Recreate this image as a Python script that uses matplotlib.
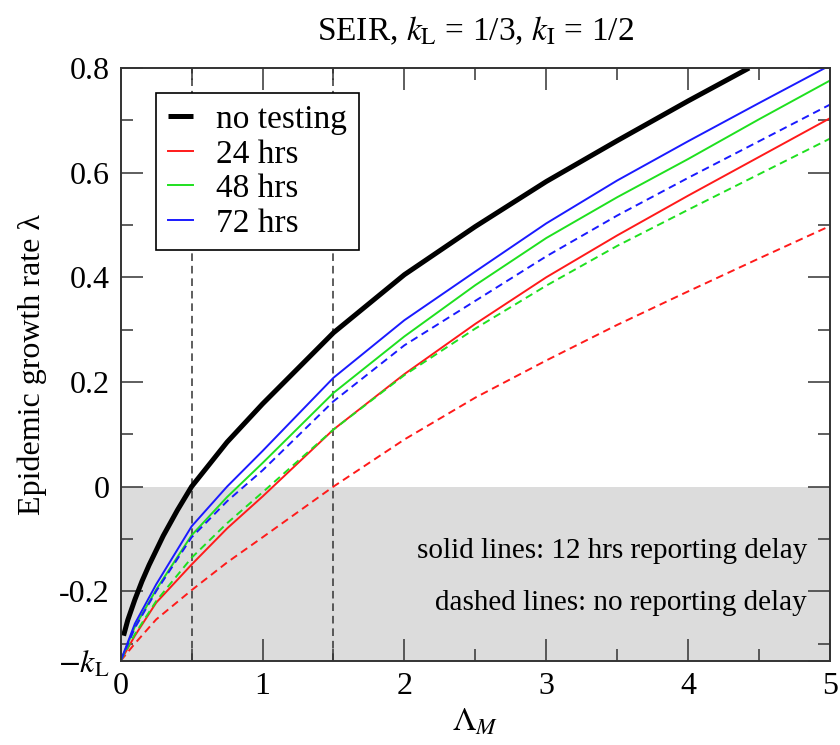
import numpy as np
import matplotlib
matplotlib.use('Agg')
import matplotlib.pyplot as plt

plt.rcParams['font.family'] = ['Liberation Serif', 'DejaVu Serif']
plt.rcParams['mathtext.fontset'] = 'stix'
plt.rcParams['axes.unicode_minus'] = False
plt.rcParams['lines.scale_dashes'] = False

# values
lam = [0, 0.1, 0.25, 0.5, 0.75, 1.0, 1.5, 2.0, 2.5, 3.0, 3.5, 4.0, 4.5, 5.0]

red_solid = [-0.333, -0.285, -0.222, -0.149, -0.080, -0.019, 0.109, 0.215, 0.311, 0.400, 0.480, 0.556, 0.630, 0.704]
green_solid = [-0.333, -0.268, -0.197, -0.093, -0.020, 0.045, 0.179, 0.287, 0.385, 0.475, 0.553, 0.626, 0.702, 0.776]
blue_solid = [-0.333, -0.262, -0.187, -0.076, 0.000, 0.068, 0.208, 0.318, 0.411, 0.503, 0.585, 0.660, 0.733, 0.805]

red_dashed = [-0.333, -0.300, -0.254, -0.198, -0.145, -0.097, 0.000, 0.090, 0.170, 0.241, 0.309, 0.373, 0.436, 0.498]
green_dashed = [-0.333, -0.282, -0.219, -0.136, -0.070, -0.011, 0.109, 0.213, 0.302, 0.384, 0.460, 0.529, 0.597, 0.665]
blue_dashed = [-0.333, -0.270, -0.200, -0.097, -0.028, 0.031, 0.163, 0.270, 0.355, 0.440, 0.518, 0.590, 0.660, 0.730]

lam_none = [0.02, 0.05, 0.1, 0.15, 0.2, 0.3, 0.4, 0.5, 0.75, 1.0, 1.5, 2.0, 2.5, 3.0, 3.5, 4.0, 4.43]
no_testing = [-0.285, -0.255, -0.216, -0.181, -0.150, -0.094, -0.045, 0.0, 0.085, 0.158,
              0.294, 0.405, 0.497, 0.583, 0.661, 0.737, 0.800]

kL = 1 / 3
marks = [0.5, 1.5]

red = '#ff1a1a'
green = '#1fe01f'
blue = '#1a1aff'

fig = plt.figure(figsize=(8.4, 7.45), dpi=100)
ax = fig.add_axes([0.1437, 0.1128, 0.8443, 0.7959])

ax.axhspan(-kL, 0, color='#dcdcdc', zorder=0, lw=0)
for m in marks:
    ax.axvline(m, color='#333333', lw=1.1, dashes=(5.5, 3.5), zorder=1)

ax.plot(lam_none, no_testing, color='black', lw=3.6, solid_capstyle='butt', label='no testing')
ax.plot(lam, red_solid, color=red, lw=1.4, label='24 hrs')
ax.plot(lam, green_solid, color=green, lw=1.4, label='48 hrs')
ax.plot(lam, blue_solid, color=blue, lw=1.4, label='72 hrs')
ax.plot(lam, red_dashed, color=red, lw=1.4, dashes=(5.5, 3.5))
ax.plot(lam, green_dashed, color=green, lw=1.4, dashes=(5.5, 3.5))
ax.plot(lam, blue_dashed, color=blue, lw=1.4, dashes=(5.5, 3.5))

ax.set_xlim(0, 5)
ax.set_ylim(-kL, 0.8)
ax.set_xticks([0, 1, 2, 3, 4, 5])
ax.set_xticks(np.arange(0.5, 5, 1.0), minor=True)
ax.set_yticks([-kL, -0.2, 0, 0.2, 0.4, 0.6, 0.8])
ax.set_yticklabels([r'$-k_\mathrm{L}$', '-0.2', '0', '0.2', '0.4', '0.6', '0.8'])
ax.set_yticks([-0.3, -0.1, 0.1, 0.3, 0.5, 0.7], minor=True)
ax.tick_params(which='both', direction='in', top=True, right=True, labelsize=23, width=1.1, color='#333333')
ax.tick_params(which='major', length=16, pad=8)
ax.tick_params(which='minor', length=8.5)
for s in ax.spines.values():
    s.set_linewidth(1.4)
    s.set_color('#333333')

ax.set_xlabel(r'$\Lambda_M$', fontsize=24, labelpad=4)
ax.set_ylabel('Epidemic growth rate λ', fontsize=23, labelpad=8)
ax.set_title(r'SEIR, $k_\mathrm{L}$ = 1/3, $k_\mathrm{I}$ = 1/2', fontsize=24, pad=20)

ax.text(4.84, -0.124, 'solid lines: 12 hrs reporting delay', ha='right', va='center', fontsize=21)
ax.text(4.84, -0.222, 'dashed lines: no reporting delay', ha='right', va='center', fontsize=21)

leg = ax.legend(loc='upper left', bbox_to_anchor=(0.0498, 0.958), borderaxespad=0,
                fontsize=24, handlelength=0.75, handletextpad=0.7, labelspacing=0.12,
                borderpad=0.35, fancybox=False, framealpha=1, edgecolor='black')
leg.get_frame().set_linewidth(1.2)

fig.savefig('out.png', dpi=100)
